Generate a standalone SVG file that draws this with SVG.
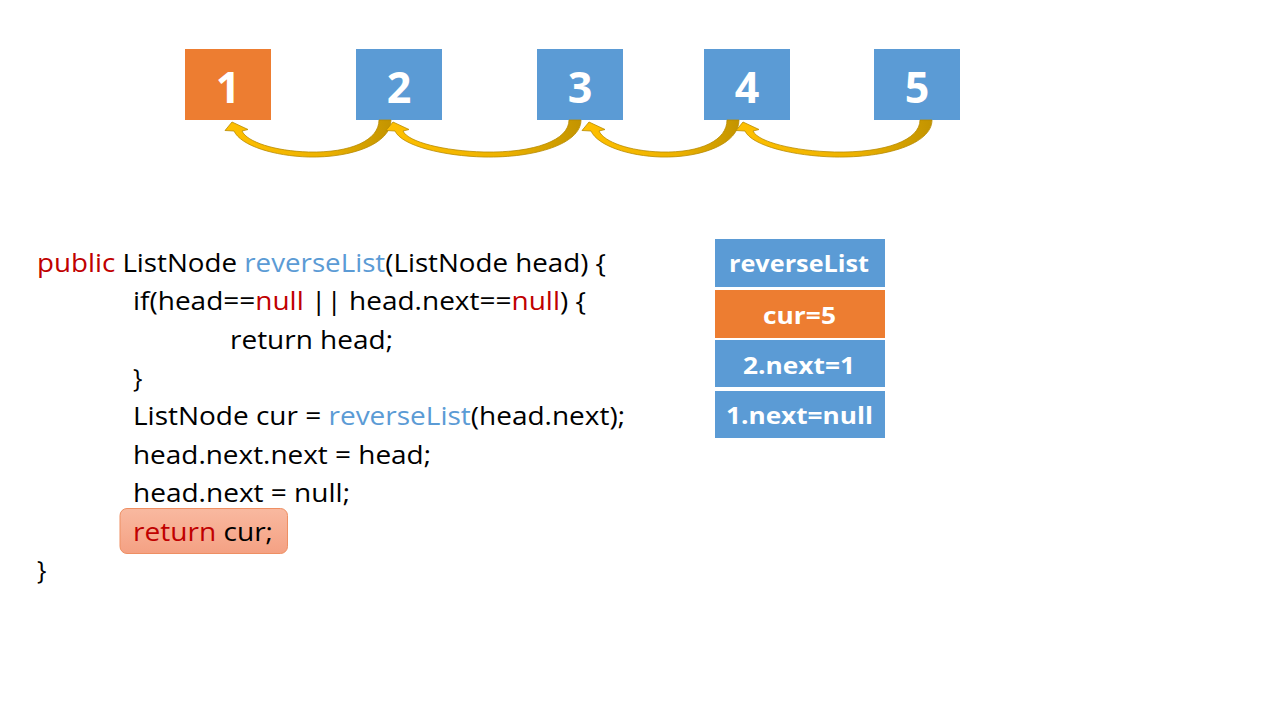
<svg xmlns="http://www.w3.org/2000/svg" width="1280" height="720" viewBox="0 0 1280 720">
  <style>
    .node-blue { fill: #5B9BD5; }
    .node-orange { fill: #ED7D31; }
    .num { font-family: "Open Sans", "Liberation Sans", sans-serif; font-weight: bold; font-size: 43px; fill: #FFFFFF; text-anchor: middle; }
    .stk { font-family: "Open Sans", "Liberation Sans", sans-serif; font-weight: bold; font-size: 23px; fill: #FFFFFF; }
    .code { font-family: "Open Sans", "Liberation Sans", sans-serif; font-size: 25px; fill: #000000; }
    .kw { fill: #C00000; }
    .fn { fill: #5B9BD5; }
    .arrow { fill: url(#gold); stroke: #B88A00; stroke-width: 0.8; stroke-linejoin: round; }
  </style>
  <defs>
    <linearGradient id="gold" x1="0" y1="0" x2="1" y2="0">
      <stop offset="0" stop-color="#FFC000"/>
      <stop offset="0.6" stop-color="#EDB200"/>
      <stop offset="1" stop-color="#C39400"/>
    </linearGradient>
    <linearGradient id="hl" x1="0" y1="0" x2="0" y2="1">
      <stop offset="0" stop-color="#F9B9A0"/>
      <stop offset="1" stop-color="#F4A183"/>
    </linearGradient>
  </defs>
  <rect width="1280" height="720" fill="#FFFFFF"/>

  <g id="node-1">
    <rect class="node-orange" x="185" y="49" width="86" height="71"/>
    <text class="num" x="228" y="103">1</text>
  </g>
  <g id="node-2">
    <rect class="node-blue" x="356" y="49" width="86" height="71"/>
    <text class="num" x="399" y="103">2</text>
  </g>
  <g id="node-3">
    <rect class="node-blue" x="537" y="49" width="86" height="71"/>
    <text class="num" x="580" y="103">3</text>
  </g>
  <g id="node-4">
    <rect class="node-blue" x="704" y="49" width="86" height="71"/>
    <text class="num" x="747" y="103">4</text>
  </g>
  <g id="node-5">
    <rect class="node-blue" x="874" y="49" width="86" height="71"/>
    <text class="num" x="917" y="103">5</text>
  </g>

  <g id="connectors">
    <path class="arrow" transform="translate(385,120)" d="M6 0 C6 24 -33.7 38 -76.5 37 C-110.2 36 -144 26 -151 11 L-160 10.5 L-153 2 L-137 9.5 L-143 11 C-138 22 -110.2 31 -76.5 32 C-33.7 33 -6 20 -6 0 Z"/>
    <path class="arrow" transform="translate(575,120)" d="M6 0 C6 24 -40 38 -91 37 C-131 36 -173 26 -180 11 L-189 10.5 L-182 2 L-166 9.5 L-172 11 C-167 22 -131 31 -91 32 C-40 33 -6 20 -6 0 Z"/>
    <path class="arrow" transform="translate(733,120)" d="M6 0 C6 24 -31.7 38 -72 37 C-103.7 36 -135 26 -142 11 L-151 10.5 L-144 2 L-128 9.5 L-134 11 C-129 22 -103.7 31 -72 32 C-31.7 33 -6 20 -6 0 Z"/>
    <path class="arrow" transform="translate(926,120)" d="M6 0 C6 24 -40.3 38 -91.5 37 C-131.8 36 -174 26 -181 11 L-190 10.5 L-183 2 L-167 9.5 L-173 11 C-168 22 -131.8 31 -91.5 32 C-40.3 33 -6 20 -6 0 Z"/>
  </g>

  <g id="code">
    <rect id="highlight" x="120" y="508.5" width="167.5" height="45" rx="7" fill="url(#hl)" stroke="#EE8F63" stroke-width="1"/>
    <text class="code" x="37" y="272" textLength="569" lengthAdjust="spacingAndGlyphs"><tspan class="kw">public</tspan> ListNode <tspan class="fn">reverseList</tspan>(ListNode head) {</text>
    <text class="code" x="133" y="310" textLength="453" lengthAdjust="spacingAndGlyphs">if(head==<tspan class="kw">null</tspan> || head.next==<tspan class="kw">null</tspan>) {</text>
    <text class="code" x="230" y="349" textLength="163" lengthAdjust="spacingAndGlyphs">return head;</text>
    <text class="code" x="133" y="387">}</text>
    <text class="code" x="133" y="425" textLength="492" lengthAdjust="spacingAndGlyphs">ListNode cur = <tspan class="fn">reverseList</tspan>(head.next);</text>
    <text class="code" x="133" y="464" textLength="298" lengthAdjust="spacingAndGlyphs">head.next.next = head;</text>
    <text class="code" x="133" y="502" textLength="217" lengthAdjust="spacingAndGlyphs">head.next = null;</text>
    <text class="code" x="133" y="541" textLength="140" lengthAdjust="spacingAndGlyphs"><tspan class="kw">return</tspan> cur;</text>
    <text class="code" x="37" y="579">}</text>
  </g>

  <g id="stack-reverseList">
    <rect class="node-blue" x="715" y="239" width="170" height="48"/>
    <text class="stk" x="729" y="272" textLength="140" lengthAdjust="spacingAndGlyphs">reverseList</text>
  </g>
  <g id="stack-cur">
    <rect class="node-orange" x="715" y="290" width="170" height="48"/>
    <text class="stk" x="763" y="324" textLength="73" lengthAdjust="spacingAndGlyphs">cur=5</text>
  </g>
  <g id="stack-2next">
    <rect class="node-blue" x="715" y="340" width="170" height="47"/>
    <text class="stk" x="743" y="374" textLength="112" lengthAdjust="spacingAndGlyphs">2.next=1</text>
  </g>
  <g id="stack-1next">
    <rect class="node-blue" x="715" y="391" width="170" height="47"/>
    <text class="stk" x="726" y="424" textLength="147" lengthAdjust="spacingAndGlyphs">1.next=null</text>
  </g>
</svg>
